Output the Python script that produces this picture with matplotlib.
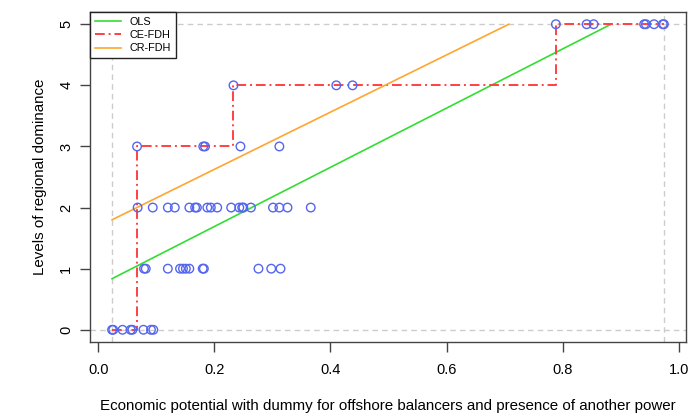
import matplotlib.pyplot as plt

# observed points: (x, level)
x0 = [0.024, 0.026, 0.042, 0.056, 0.059, 0.078, 0.091, 0.095]
x1 = [0.079, 0.082, 0.120, 0.141, 0.146, 0.151, 0.157, 0.180, 0.182, 0.276, 0.298, 0.314]
x2 = [0.068, 0.094, 0.120, 0.132, 0.157, 0.167, 0.170, 0.188, 0.194, 0.205, 0.229,
      0.243, 0.248, 0.250, 0.263, 0.301, 0.312, 0.326, 0.366]
x3 = [0.067, 0.181, 0.184, 0.245, 0.312]
x4 = [0.233, 0.410, 0.438]
x5 = [0.788, 0.841, 0.853, 0.940, 0.943, 0.957, 0.972, 0.974]

# fitted lines
ols_x = [0.024, 0.883]
ols_y = [0.836, 5.0]
cr_x = [0.024, 0.707]
cr_y = [1.80, 5.0]
# CE-FDH step frontier
ce_x = [0.024, 0.067, 0.067, 0.233, 0.233, 0.788, 0.788, 0.974]
ce_y = [0, 0, 3, 3, 4, 4, 5, 5]

plt.rcParams['font.family'] = ['Liberation Sans', 'DejaVu Sans']

fig = plt.figure(figsize=(6.96, 4.16), dpi=100)
ax = fig.add_axes([90 / 696, 1 - 342 / 416, 596 / 696, 330 / 416])

xs, ys = [], []
for lvl, vals in enumerate([x0, x1, x2, x3, x4, x5]):
    xs += vals
    ys += [lvl] * len(vals)

xmin, xmax = min(xs), max(xs)
pad = 0.04 * (xmax - xmin)
ax.set_xlim(xmin - pad, xmax + pad)
ax.set_ylim(-0.2, 5.2)

# reference lines at data limits
for v in (0, 5):
    ax.axhline(v, color='#cccccc', ls=(0, (4, 3)), lw=1, zorder=1)
for v in (xmin, xmax):
    ax.axvline(v, color='#cccccc', ls=(0, (4, 3)), lw=1, zorder=1)

ax.plot(ols_x, ols_y, color='#33dd33', lw=1.2, label='OLS', zorder=3)
ax.plot(ce_x, ce_y, color='#ff4040', lw=1.4, ls=(0, (5, 2, 1, 2)), label='CE-FDH', zorder=3)
ax.plot(cr_x, cr_y, color='#ffa530', lw=1.2, label='CR-FDH', zorder=3)
ax.scatter(xs, ys, s=38, facecolors='none', edgecolors='#5566ee', linewidths=1.0, zorder=4)

ax.set_xticks([0, 0.2, 0.4, 0.6, 0.8, 1.0])
ax.set_xticklabels(['0.0', '0.2', '0.4', '0.6', '0.8', '1.0'])
ax.set_yticks(range(6))
ax.set_yticklabels([str(i) for i in range(6)], rotation=90, va='center')
ax.tick_params(direction='out', length=7, width=1, color='#444444', labelsize=10.5)
ax.tick_params(axis='x', pad=8)
ax.tick_params(axis='y', pad=5)
for s in ax.spines.values():
    s.set_color('#444444')
    s.set_linewidth(1)

ax.set_xlabel('Economic potential with dummy for offshore balancers and presence of another power',
              fontsize=10.9, labelpad=16)
ax.set_ylabel('Levels of regional dominance', fontsize=10.9, labelpad=9)

leg = ax.legend(loc='upper left', borderaxespad=0, fontsize=7.8, fancybox=False,
                edgecolor='#222222', handlelength=2.4, labelspacing=0.3,
                borderpad=0.45, framealpha=1)
leg.get_frame().set_linewidth(1)

fig.savefig('out.png', dpi=100)
